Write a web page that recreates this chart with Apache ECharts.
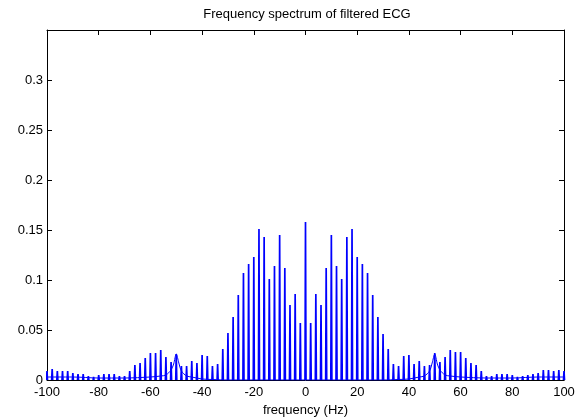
<!DOCTYPE html>
<html>
<head>
<meta charset="utf-8">
<script src="https://cdn.jsdelivr.net/npm/echarts@6/dist/echarts.min.js"></script>
<style>
  html, body { margin: 0; padding: 0; background: #fff; }
  #chart { width: 581px; height: 418px; }
</style>
</head>
<body>
<div id="chart"></div>
<script>
// harmonic spikes, every 2 Hz from -100 to 100
var spikeFreq = [-100, -98, -96, -94, -92, -90, -88, -86, -84, -82, -80, -78, -76, -74, -72, -70, -68, -66, -64, -62,
    -60, -58, -56, -54, -52, -50, -48, -46, -44, -42, -40, -38, -36, -34, -32, -30, -28, -26, -24, -22,
    -20, -18, -16, -14, -12, -10, -8, -6, -4, -2, 0, 2, 4, 6, 8, 10, 12, 14, 16, 18,
    20, 22, 24, 26, 28, 30, 32, 34, 36, 38, 40, 42, 44, 46, 48, 50, 52, 54, 56, 58,
    60, 62, 64, 66, 68, 70, 72, 74, 76, 78, 80, 82, 84, 86, 88, 90, 92, 94, 96, 98, 100];
var spikeMag = [0.009, 0.011, 0.009, 0.009, 0.009, 0.007, 0.006, 0.006, 0.004, 0.003, 0.005, 0.006, 0.006, 0.006, 0.004, 0.004, 0.009, 0.015, 0.017, 0.022,
    0.027, 0.027, 0.030, 0.023, 0.018, 0.026, 0.014, 0.014, 0.019, 0.017, 0.025, 0.024, 0.014, 0.016, 0.031, 0.047, 0.063, 0.085, 0.107, 0.116,
    0.123, 0.151, 0.143, 0.101, 0.114, 0.145, 0.112, 0.075, 0.086, 0.057, 0.158, 0.057, 0.086, 0.075, 0.112, 0.145, 0.114, 0.101, 0.143, 0.151,
    0.123, 0.116, 0.107, 0.085, 0.063, 0.046, 0.031, 0.016, 0.014, 0.024, 0.025, 0.016, 0.019, 0.014, 0.015, 0.027, 0.018, 0.023, 0.030, 0.028,
    0.028, 0.022, 0.017, 0.015, 0.009, 0.004, 0.004, 0.006, 0.006, 0.006, 0.005, 0.003, 0.004, 0.005, 0.006, 0.007, 0.010, 0.010, 0.009, 0.010, 0.009];

// continuous floor of the spectrum (with the 50 Hz bumps)
var floorFreq = [-100, -90, -80, -70, -60, -56, -54, -52, -51, -50, -49, -48, -46, -44, -40, -36, -30,
    30, 36, 40, 44, 46, 48, 49, 50, 51, 52, 54, 56, 60, 70, 80, 90, 100];
var floorMag = [0.003, 0.003, 0.002, 0.002, 0.003, 0.004, 0.005, 0.010, 0.016, 0.026, 0.017, 0.009, 0.004, 0.003, 0.001, 0.0005, 0,
    0, 0.0005, 0.001, 0.003, 0.004, 0.009, 0.017, 0.026, 0.016, 0.010, 0.005, 0.004, 0.003, 0.002, 0.002, 0.003, 0.003];

var xTicks = [-100, -80, -60, -40, -20, 0, 20, 40, 60, 80, 100];

var spikeData = [];
for (var i = 0; i < spikeFreq.length; i++) {
    spikeData.push([spikeFreq[i] - 0.2, 0]);
    spikeData.push([spikeFreq[i], spikeMag[i]]);
    spikeData.push([spikeFreq[i] + 0.2, 0]);
    spikeData.push([spikeFreq[i], '-']);
}
var floorData = floorFreq.map(function (f, i) { return [f, floorMag[i]]; });

var font = 'Liberation Sans';
var chart = echarts.init(document.getElementById('chart'));

var xAxisBase = {
    type: 'value',
    min: xTicks[0],
    max: xTicks[xTicks.length - 1],
    interval: 20,
    splitLine: { show: false },
    axisLine: { show: true, onZero: false, lineStyle: { color: '#000', width: 1 } },
    axisTick: { show: true, inside: true, length: 5, lineStyle: { color: '#000' } }
};
var yAxisBase = {
    type: 'value',
    min: 0,
    max: 0.35,
    interval: 0.05,
    splitLine: { show: false },
    axisLine: { show: true, onZero: false, lineStyle: { color: '#000', width: 1 } },
    axisTick: { show: true, inside: true, length: 5, lineStyle: { color: '#000' } }
};

var option = {
    animation: false,
    title: {
        text: 'Frequency spectrum of filtered ECG',
        left: 302,
        top: 3,
        textAlign: 'center',
        textStyle: { fontFamily: font, fontSize: 13, fontWeight: 'normal', color: '#000' }
    },
    grid: { left: 47, right: 17, top: 30, bottom: 38, outerBoundsMode: 'none' },
    xAxis: [
        Object.assign({}, xAxisBase, {
            position: 'bottom',
            name: 'frequency (Hz)',
            nameLocation: 'middle',
            nameGap: 22,
            nameTextStyle: { fontFamily: font, fontSize: 13, color: '#000' },
            axisLabel: { fontFamily: font, fontSize: 13, color: '#000', margin: 6 }
        }),
        Object.assign({}, xAxisBase, {
            position: 'top',
            axisLabel: { show: false }
        })
    ],
    yAxis: [
        Object.assign({}, yAxisBase, {
            position: 'left',
            axisLabel: { fontFamily: font, fontSize: 13, color: '#000', margin: 4, showMaxLabel: false }
        }),
        Object.assign({}, yAxisBase, {
            position: 'right',
            axisLabel: { show: false }
        })
    ],
    series: [
        {
            name: 'floor',
            type: 'line',
            data: floorData,
            showSymbol: false,
            smooth: 0.3,
            lineStyle: { color: '#0000ff', width: 1 },
            z: 2
        },
        {
            name: 'spectrum',
            type: 'line',
            data: spikeData,
            showSymbol: false,
            connectNulls: false,
            lineStyle: { color: '#0000ff', width: 1.7 },
            z: 3
        }
    ]
};
chart.setOption(option);
</script>
</body>
</html>
